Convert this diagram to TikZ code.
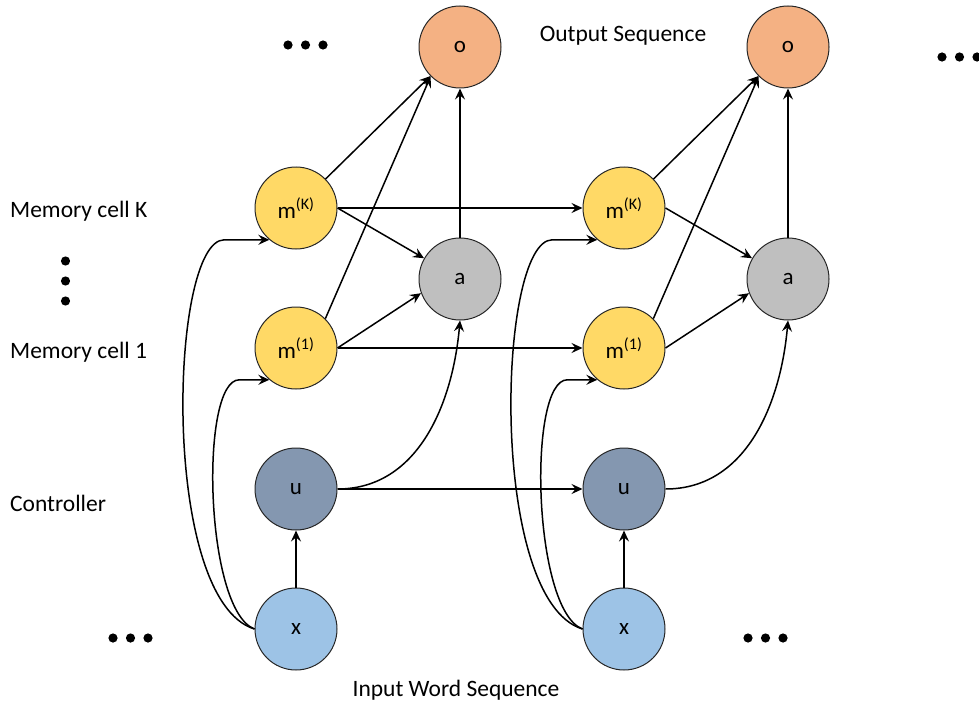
\documentclass[tikz,border=0pt]{standalone}
\usepackage{fontspec}
\setmainfont{Carlito}
\usetikzlibrary{arrows.meta,calc}
\definecolor{ofill}{HTML}{F4B183}
\definecolor{yfill}{HTML}{FFD966}
\definecolor{afill}{HTML}{BFBFBF}
\definecolor{ufill}{HTML}{8497B0}
\definecolor{xfill}{HTML}{9DC3E6}
\begin{document}
\begin{tikzpicture}[x=1pt,y=1pt,
  cell/.style={circle,draw=black!85,line width=1pt,minimum size=82pt,inner sep=0pt,font=\fontsize{23}{27}\selectfont},
  arr/.style={line width=1.5pt,-{Stealth[length=11pt,width=10pt,inset=4pt]}},
  lbl/.style={font=\fontsize{23.5}{28}\selectfont,inner sep=0pt}]
\useasboundingbox (0,0) rectangle (979,-706);
\foreach \c/\X in {L/296,R/624}{
  \node[cell,fill=ofill] (o\c) at (\X+164,-47) {o};
  \node[cell,fill=yfill] (mK\c) at (\X,-208) {m\textsuperscript{(K)}};
  \node[cell,fill=afill] (a\c) at (\X+164,-279) {a};
  \node[cell,fill=yfill] (m1\c) at (\X,-348) {m\textsuperscript{(1)}};
  \node[cell,fill=ufill] (u\c) at (\X,-489) {u};
  \node[cell,fill=xfill] (x\c) at (\X,-629) {x};
}
\foreach \c in {L,R}{
  \draw[arr] (x\c) -- (u\c);
  \draw[arr] (u\c.east) to[out=0,in=-95] (a\c.south);
  \draw[arr] (mK\c.east) -- (a\c.150);
  \draw[arr] (m1\c.east) -- (a\c.200);
  \draw[arr] (mK\c) -- (o\c);
  \draw[arr] (m1\c.45) -- (o\c.225);
  \draw[arr] (a\c) -- (o\c);
  \draw[arr] (x\c.west) .. controls +(-95,29) and +(-55,0) .. ($(mK\c.230)+(-45,0)$) -- (mK\c.230);
  \draw[arr] (x\c.west) .. controls +(-50,19) and +(-40,0) .. ($(m1\c.230)+(-30,0)$) -- (m1\c.230);
}
\draw[arr] (uL) -- (uR);
\draw[arr] (mKL) -- (mKR);
\draw[arr] (m1L) -- (m1R);
\node[lbl,anchor=west] (lk) at (10,-211) {Memory cell K};
\node[lbl,anchor=west] (l1) at (10,-352) {Memory cell 1};
\node[lbl,anchor=west] (lc) at (10,-503) {Controller};
\node[lbl] (outs) at (623,-36) {Output Sequence};
\node[lbl] (ins) at (456,-690) {Input Word Sequence};
\foreach \px/\py in {288/45,305.5/45,323/45, 113/638,130.5/638,148/638, 748/638,765.5/638,783/638, 942/57,959.5/57,977/57, 65.5/261,65.5/281,65.5/301}{
  \fill (\px,-\py) circle (4.6);
}
\end{tikzpicture}
\end{document}
